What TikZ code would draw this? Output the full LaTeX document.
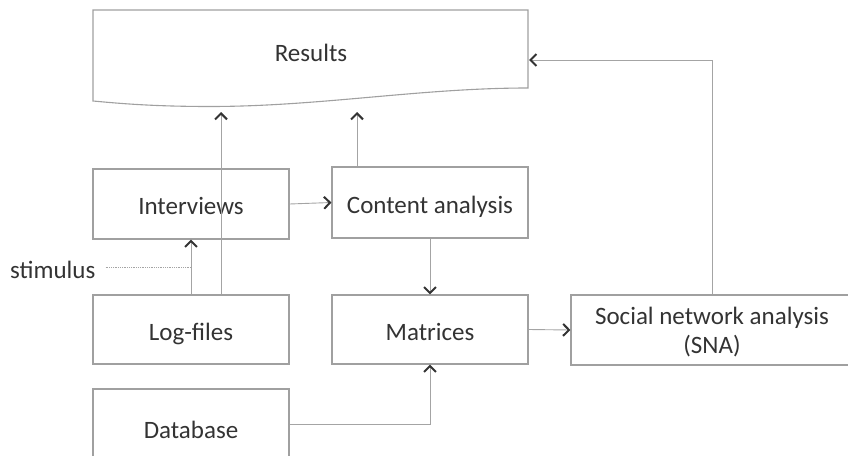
\documentclass[tikz,border=0pt]{standalone}
\usepackage{fontspec}
\setmainfont{Carlito}
\usetikzlibrary{arrows.meta,calc}
\definecolor{boxline}{HTML}{A0A0A0}
\definecolor{wire}{HTML}{A4A4A4}
\definecolor{ink}{HTML}{333333}
\tikzset{
  bigtext/.style={text=ink, font=\fontsize{25}{29}\selectfont},
  stepbox/.style={bigtext, draw=boxline, line width=1.1pt, minimum width=196pt,
    align=center, inner sep=0pt, text height=21pt, text depth=0pt},
  link/.style={draw=wire, line width=0.9pt},
  arr/.style={link, -{Straight Barb[length=6pt,width=12pt,line width=2pt,color=ink]}},
  dots/.style={draw=wire, line width=0.8pt, densely dotted},
}
\begin{document}
\begin{tikzpicture}[x=1pt,y=-1pt]
\useasboundingbox (0,0) rectangle (848,455);
\clip (0,0) rectangle (848,455);
% Results: document shape with wavy bottom
\draw[boxline, line width=1.1pt, fill=white]
  (93,10) -- (528,10) -- (528,88)
  .. controls (420,88) and (320,106.5) .. (210,106.5)
  .. controls (150,106.5) and (115,103) .. (93,101) -- cycle;
\node[bigtext, anchor=base] (results) at (311,61) {Results};
\coordinate (resA) at (221,112);
\coordinate (resB) at (357,112);
\coordinate (resR) at (529,60);
% Process boxes
\node[stepbox, minimum height=70pt] (int) at (191,204) {Interviews};
\node[stepbox, minimum height=69pt] (log) at (191,329.5) {Log-files};
\node[stepbox, minimum height=78pt] (db) at (191,428) {Database};
\node[stepbox, minimum height=71pt] (ca) at (430,202.5) {Content analysis};
\node[stepbox, minimum height=69pt] (mat) at (430,329.5) {Matrices};
\node[stepbox, minimum width=282pt, minimum height=70pt, text height=47pt] (sna) at (712,330)
  {Social network analysis\\(SNA)};
\node[bigtext, anchor=base west, inner sep=0pt] (stim) at (10,278) {stimulus};
\coordinate (stimend) at (191,267);
% Connectors
\draw[arr] (log.north -| resA) -- (resA);
\draw[arr] (log.north) -- (int.south);
\draw[dots] ($(stimend -| stim.east)+(10,0)$) -- (stimend);
\draw[arr] (int.east) -- (ca.west);
\draw[arr] (ca.north -| resB) -- (resB);
\draw[arr] (ca.south) -- (mat.north);
\draw[arr] (mat.east) -- (sna.west);
\draw[arr] (sna.north) |- (resR);
\draw[arr] ([yshift=4pt]db.east) -| (mat.south);
\end{tikzpicture}
\end{document}
